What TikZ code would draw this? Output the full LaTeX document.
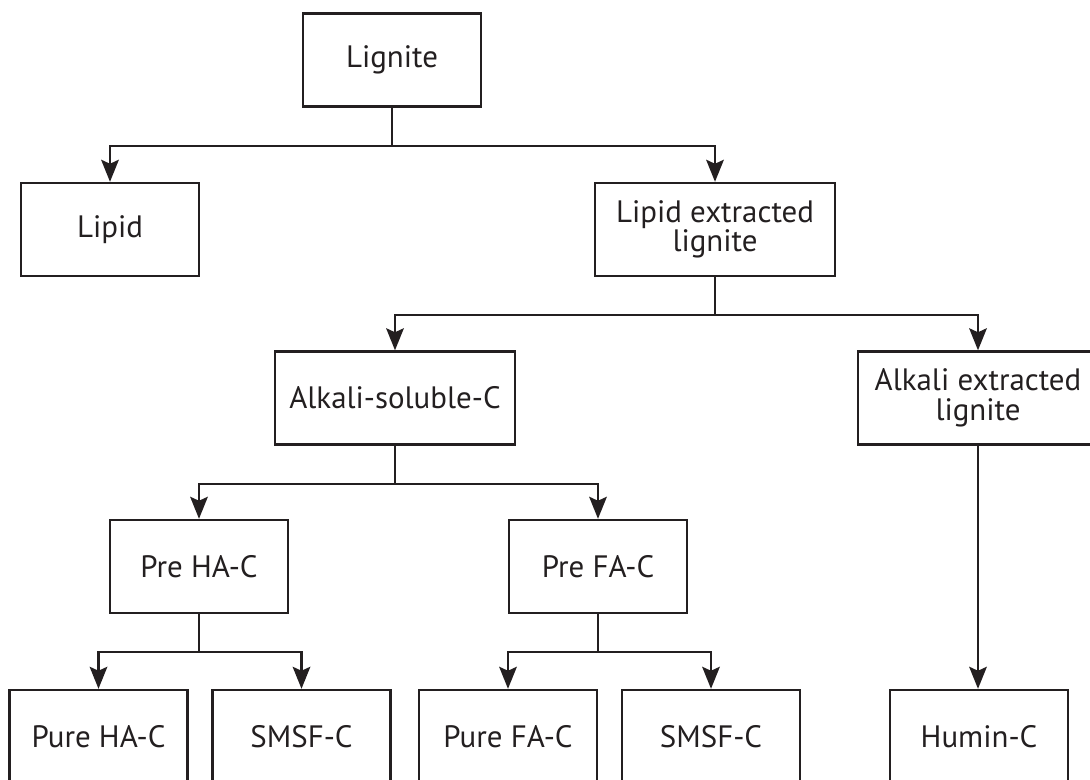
\documentclass[tikz,border=0pt]{standalone}
\usepackage{fontspec}
\setmainfont{PT Sans}
\usetikzlibrary{arrows.meta}
\definecolor{inkdark}{RGB}{35,31,32}

\begin{document}
\begin{tikzpicture}[x=0.025cm,y=-0.025cm,
  box/.style={draw=inkdark,line width=1.7pt,minimum width=4.45cm,minimum height=2.325cm,
    inner sep=0pt,align=center,text=inkdark,font=\fontsize{22}{21}\selectfont},
  widebox/.style={box,minimum width=6cm},
  arr/.style={draw=inkdark,line width=1.7pt,-{Stealth[length=5.5mm,width=4.4mm,inset=1mm]}}]
\useasboundingbox (0,0) rectangle (1090,780);
% boxes, centres given in pixels from the top left corner
\node[box] (lignite) at (392,60) {Lignite};
\node[box] (lipid) at (110,229.5) {Lipid};
\node[widebox] (lel) at (715,229.5) {Lipid extracted\\lignite};
\node[widebox] (asc) at (395,398) {Alkali-soluble-C};
\node[widebox] (ael) at (978,398) {Alkali extracted\\lignite};
\node[box] (preha) at (199,566.5) {Pre HA-C};
\node[box] (prefa) at (598,566.5) {Pre FA-C};
\node[box] (pureha) at (98.5,736.5) {Pure HA-C};
\node[box] (smsfha) at (301.5,736.5) {SMSF-C};
\node[box] (purefa) at (508,736.5) {Pure FA-C};
\node[box] (smsffa) at (711,736.5) {SMSF-C};
\node[box] (humin) at (979,736.5) {Humin-C};
% branching connectors
\foreach \a/\b in {lignite/lipid,lignite/lel,lel/asc,lel/ael,asc/preha,asc/prefa,
  preha/pureha,preha/smsfha,prefa/purefa,prefa/smsffa}
  \draw[arr] (\a.south) -- ++(0,38) -| (\b.north);
\draw[arr] (ael.south) -- (ael.south |- humin.north);
\end{tikzpicture}
\end{document}
